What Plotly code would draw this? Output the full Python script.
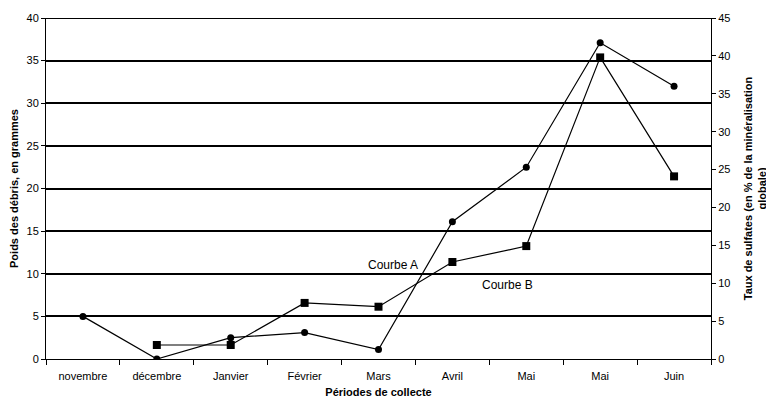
import plotly.graph_objects as go

periods = ["novembre", "décembre", "Janvier", "Février", "Mars", "Avril", "Mai", "Mai", "Juin"]
weight_debris = [5.0, 0.0, 2.5, 3.1, 1.1, 16.1, 22.5, 37.1, 32.0]          # left axis (g)
sulfates = [None, 1.85, 1.85, 7.4, 6.9, 12.8, 14.9, 39.8, 24.1]            # right axis (%)
left_ticks = [0, 5, 10, 15, 20, 25, 30, 35, 40]
right_ticks = [0, 5, 10, 15, 20, 25, 30, 35, 40, 45]

xpos = list(range(len(periods)))
font_family = "Liberation Sans, Arial, sans-serif"

fig = go.Figure()
fig.add_trace(go.Scatter(
    x=xpos, y=weight_debris, mode="lines+markers", name="Courbe A",
    line=dict(color="black", width=1.2),
    marker=dict(symbol="circle", size=7, color="black"),
))
fig.add_trace(go.Scatter(
    x=xpos, y=sulfates, mode="lines+markers", name="Courbe B", yaxis="y2",
    line=dict(color="black", width=1.2),
    marker=dict(symbol="square", size=8, color="black"),
))

fig.update_layout(
    width=766, height=393,
    margin=dict(l=38, r=63, t=10, b=42, autoexpand=False),
    paper_bgcolor="white", plot_bgcolor="white",
    showlegend=False,
    font=dict(family=font_family, size=11, color="black"),
    xaxis=dict(
        range=[-0.5, len(periods) - 0.5],
        tickmode="array", tickvals=xpos, ticktext=periods,
        ticks="", showgrid=False, zeroline=False,
        showline=True, linecolor="black", linewidth=1,
        minor=dict(tickmode="array", tickvals=[i + 0.5 for i in range(-1, len(periods))],
                   ticks="outside", ticklen=5, tickcolor="black", showgrid=False),
        tickfont=dict(size=11, color="black"),
        ticklabelstandoff=7,
        title=dict(text="<b>Périodes de collecte</b>", font=dict(size=11, color="black"), standoff=7),
    ),
    yaxis=dict(
        range=[0, 40], tickmode="array", tickvals=left_ticks,
        showgrid=True, gridcolor="black", gridwidth=2,
        zeroline=False, showline=True, linecolor="black", linewidth=1,
        ticks="outside", ticklen=4, tickcolor="black",
        tickfont=dict(size=11, color="black"),
        title=dict(text="<b>Poids des débris, en grammes</b>", font=dict(size=11, color="black"), standoff=6),
    ),
    yaxis2=dict(
        range=[0, 45], tickmode="array", tickvals=right_ticks,
        overlaying="y", side="right", showgrid=False, zeroline=False,
        showline=True, linecolor="black", linewidth=1,
        ticks="outside", ticklen=4, tickcolor="black",
        tickfont=dict(size=11, color="black"),
        title=dict(text="<b>Taux de sulfates (en % de la minéralisation<br>globale)</b>",
                   font=dict(size=11, color="black"), standoff=14),
    ),
    shapes=[
        dict(type="line", xref="paper", yref="y", x0=0, x1=1, y0=40, y1=40,
             line=dict(color="black", width=2)),
    ],
    annotations=[
        dict(x=4.2, y=11.0, xref="x", yref="y", text="Courbe A", showarrow=False,
             font=dict(size=12, family=font_family, color="black")),
        dict(x=5.74, y=8.7, xref="x", yref="y", text="Courbe B", showarrow=False,
             font=dict(size=12, family=font_family, color="black")),
    ],
)

fig.write_html("out.html")
